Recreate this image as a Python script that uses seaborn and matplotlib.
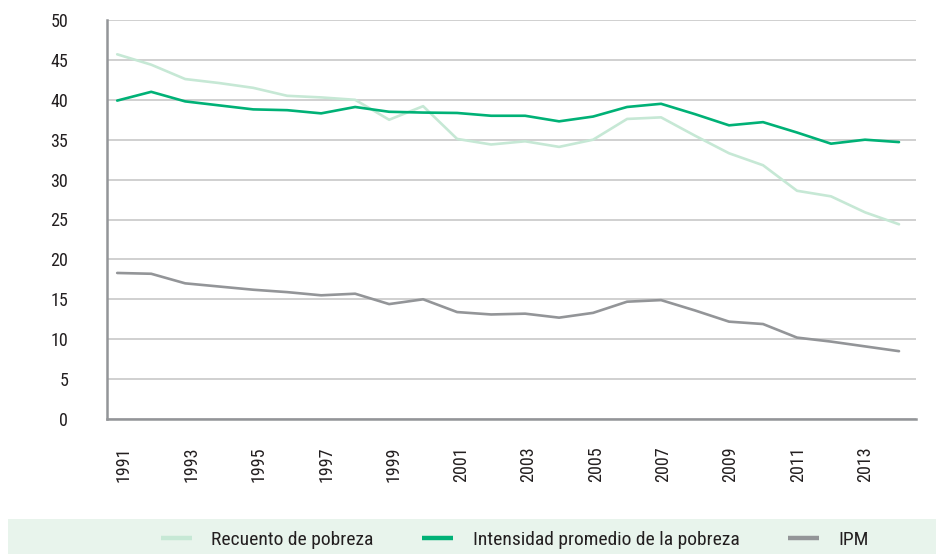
import numpy as np
import pandas as pd
import matplotlib
matplotlib.use("Agg")
import matplotlib.pyplot as plt
from matplotlib.patches import Rectangle
from matplotlib.lines import Line2D
import seaborn as sns

years = list(range(1991, 2015))
recuento = [45.7, 44.4, 42.6, 42.1, 41.5, 40.5, 40.3, 40.0, 37.5, 39.2, 35.1, 34.4,
            34.8, 34.1, 35.0, 37.6, 37.8, 35.5, 33.3, 31.8, 28.6, 27.9, 25.9, 24.4]
intensidad = [39.9, 41.0, 39.8, 39.3, 38.8, 38.7, 38.3, 39.1, 38.5, 38.4, 38.35, 38.0,
              38.0, 37.3, 37.9, 39.1, 39.5, 38.2, 36.8, 37.2, 35.9, 34.5, 35.0, 34.7]
ipm = [18.3, 18.2, 17.0, 16.6, 16.2, 15.9, 15.5, 15.7, 14.4, 15.0, 13.4, 13.1,
       13.2, 12.7, 13.3, 14.7, 14.9, 13.6, 12.2, 11.9, 10.2, 9.7, 9.1, 8.5]
series_names = ["Recuento de pobreza", "Intensidad promedio de la pobreza", "IPM"]
colors = ["#c6e8d5", "#00b176", "#939598"]
y_ticks = list(range(0, 51, 5))
x_labels = [str(y) for y in years[::2]]

sns.set_theme(style="white")
plt.rcParams["font.family"] = ["Roboto Condensed", "Archivo Narrow", "DejaVu Sans"]
TICK_FS = 13
LEG_FS = 14
TXT = "#231f20"

df = pd.DataFrame({
    "pos": np.tile(np.arange(len(years)), 3),
    "valor": recuento + intensidad + ipm,
    "serie": np.repeat(series_names, len(years)),
})

fig = plt.figure(figsize=(9.36, 5.54), dpi=100)
ax = fig.add_axes([107 / 936, 1 - 419 / 554, (916 - 107) / 936, (419 - 20) / 554])

sns.lineplot(data=df, x="pos", y="valor", hue="serie", hue_order=series_names,
             palette=colors, linewidth=1.9, legend=False, ax=ax, zorder=3)

ax.set_xlim(-0.3, 23.5)
ax.set_ylim(0, 50)
ax.set_xlabel("")
ax.set_ylabel("")

# horizontal gridlines
ax.set_yticks(y_ticks)
ax.set_yticklabels([str(v) for v in y_ticks], fontsize=TICK_FS, color=TXT)
ax.yaxis.grid(True, color="#d0d0d0", linewidth=1.4, zorder=0)
ax.tick_params(axis="y", direction="out", length=5, width=1.4, color="#d0d0d0", pad=23)

# category boundaries as tick marks, labels centred in every other category
bounds = np.linspace(-0.3, 23.5, 25)
centers = (bounds[:-1] + bounds[1:]) / 2
ax.set_xticks(bounds, minor=True)
ax.set_xticks(centers[::2])
ax.set_xticklabels(x_labels, rotation=90, fontsize=TICK_FS, color=TXT)
ax.tick_params(axis="x", which="major", length=0, pad=20)
ax.tick_params(axis="x", which="minor", direction="out", length=4.3, width=1.6, color="#939598")

for side in ["top", "right"]:
    ax.spines[side].set_visible(False)
for side in ["left", "bottom"]:
    ax.spines[side].set_color("#939598")
    ax.spines[side].set_linewidth(1.8)

# legend band
fig.patches.append(Rectangle((8 / 936, 0), 1 - 8 / 936, 35 / 554, transform=fig.transFigure,
                             facecolor="#e8f4ec", edgecolor="none", zorder=0))
handles = [Line2D([0], [0], color=c, linewidth=3.2, solid_capstyle="butt") for c in colors]
fig.legend(handles, series_names, loc="center", bbox_to_anchor=(515 / 936, 1 - 540 / 554),
           ncol=3, frameon=False, handlelength=1.6, handletextpad=1.0,
           columnspacing=2.5, labelcolor=TXT, prop={"size": LEG_FS})

fig.savefig("out.png", dpi=100)
